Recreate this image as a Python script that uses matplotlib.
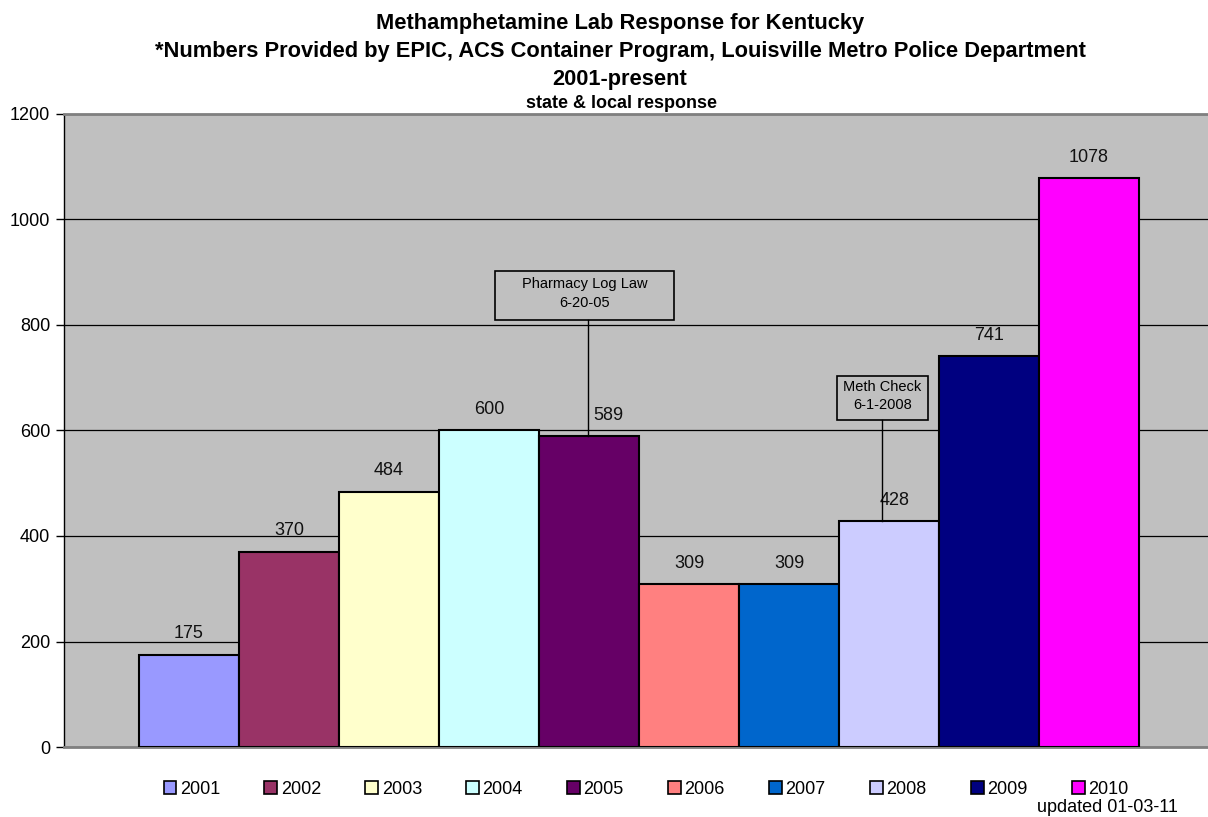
import numpy as np
import matplotlib
matplotlib.use('Agg')
import matplotlib.pyplot as plt
from matplotlib.patches import Patch, Rectangle

plt.rcParams['font.family'] = ['Liberation Sans', 'DejaVu Sans']

# Meth lab responses per year
YEARS = ['2001', '2002', '2003', '2004', '2005',
         '2006', '2007', '2008', '2009', '2010']
COUNTS = [175, 370, 484, 600, 589, 309, 309, 428, 741, 1078]
COLOURS = ['#9999FF', '#993366', '#FFFFCC', '#CCFFFF', '#660066',
           '#FF8080', '#0066CC', '#CCCCFF', '#000080', '#FF00FF']
Y_TICKS = [0, 200, 400, 600, 800, 1000, 1200]

TITLE_LINES = ['Methamphetamine Lab Response for Kentucky',
               '*Numbers Provided by EPIC, ACS Container Program, Louisville Metro Police Department',
               '2001-present']
SUBTITLE = 'state & local response'


def main():
    W, H = 1208, 817
    fig = plt.figure(figsize=(W / 100, H / 100), dpi=100)
    ax = fig.add_axes([64 / W, (H - 747) / H, (W - 64) / W, 633 / H])
    ax.set_facecolor('#C0C0C0')

    x = np.arange(len(YEARS))
    ax.bar(x, COUNTS, width=1.0, color=COLOURS, edgecolor='black',
           linewidth=1.5, zorder=3)

    # labels next to a callout line are nudged right (px)
    nudge = {4: 19, 7: 6}
    for i, (xi, v) in enumerate(zip(x, COUNTS)):
        ax.annotate(str(v), (xi, v), xytext=(nudge.get(i, 0) * 0.72, 15),
                    textcoords='offset points', ha='center', va='center',
                    fontsize=13, color='#111111')

    ax.set_xlim(-1.25, len(YEARS) + 0.19)
    ax.set_ylim(0, 1200)
    ax.set_yticks(Y_TICKS)
    ax.set_xticks([])
    ax.tick_params(axis='y', labelsize=13, length=6, width=1, pad=4)
    ax.yaxis.grid(True, color='black', linewidth=0.9, zorder=0)
    ax.set_axisbelow(True)

    for side in ['top', 'bottom']:
        ax.spines[side].set_color('#808080')
        ax.spines[side].set_linewidth(2)
    ax.spines['right'].set_visible(False)
    ax.spines['left'].set_color('black')
    ax.spines['left'].set_linewidth(1)

    # callouts: text, centre x, width, y0, y1, line x, bar index
    callouts = [
        ('Pharmacy Log Law\n6-20-05', 3.955, 1.79, 810, 902, 3.99, 4),
        ('Meth Check\n6-1-2008', 6.935, 0.91, 620, 703, 6.93, 7),
    ]
    for label, cx, w, y0, y1, lx, bar_i in callouts:
        ax.add_patch(Rectangle((cx - w / 2, y0), w, y1 - y0, facecolor='none',
                               edgecolor='black', linewidth=1.2, zorder=4))
        ax.annotate(label, (cx, (y0 + y1) / 2), xytext=(0, 1.5),
                    textcoords='offset points', ha='center', va='center',
                    fontsize=10.5, linespacing=1.4, zorder=5)
        ax.plot([lx, lx], [y0, COUNTS[bar_i]], color='black', linewidth=1, zorder=4)

    # titles
    for txt, ypx in zip(TITLE_LINES, [23, 51, 79]):
        fig.text(620 / W, 1 - ypx / H, txt, ha='center', va='center',
                 fontsize=15.75, fontweight='bold')
    fig.text(622 / W, 1 - 103 / H, SUBTITLE, ha='center', va='center',
             fontsize=13, fontweight='bold')

    handles = [Patch(facecolor=c, edgecolor='black', linewidth=1.2, label=y)
               for c, y in zip(COLOURS, YEARS)]
    fig.legend(handles=handles, loc='center', bbox_to_anchor=(646 / W, 1 - 789 / H),
               ncol=len(YEARS), frameon=False, fontsize=13, handlelength=0.7,
               handleheight=0.7, handletextpad=0.2, columnspacing=2.46)
    fig.text(1178 / W, 1 - 808 / H, 'updated 01-03-11', ha='right', va='center',
             fontsize=13)

    fig.savefig('out.png', dpi=100)
    plt.close(fig)


if __name__ == '__main__':
    main()
